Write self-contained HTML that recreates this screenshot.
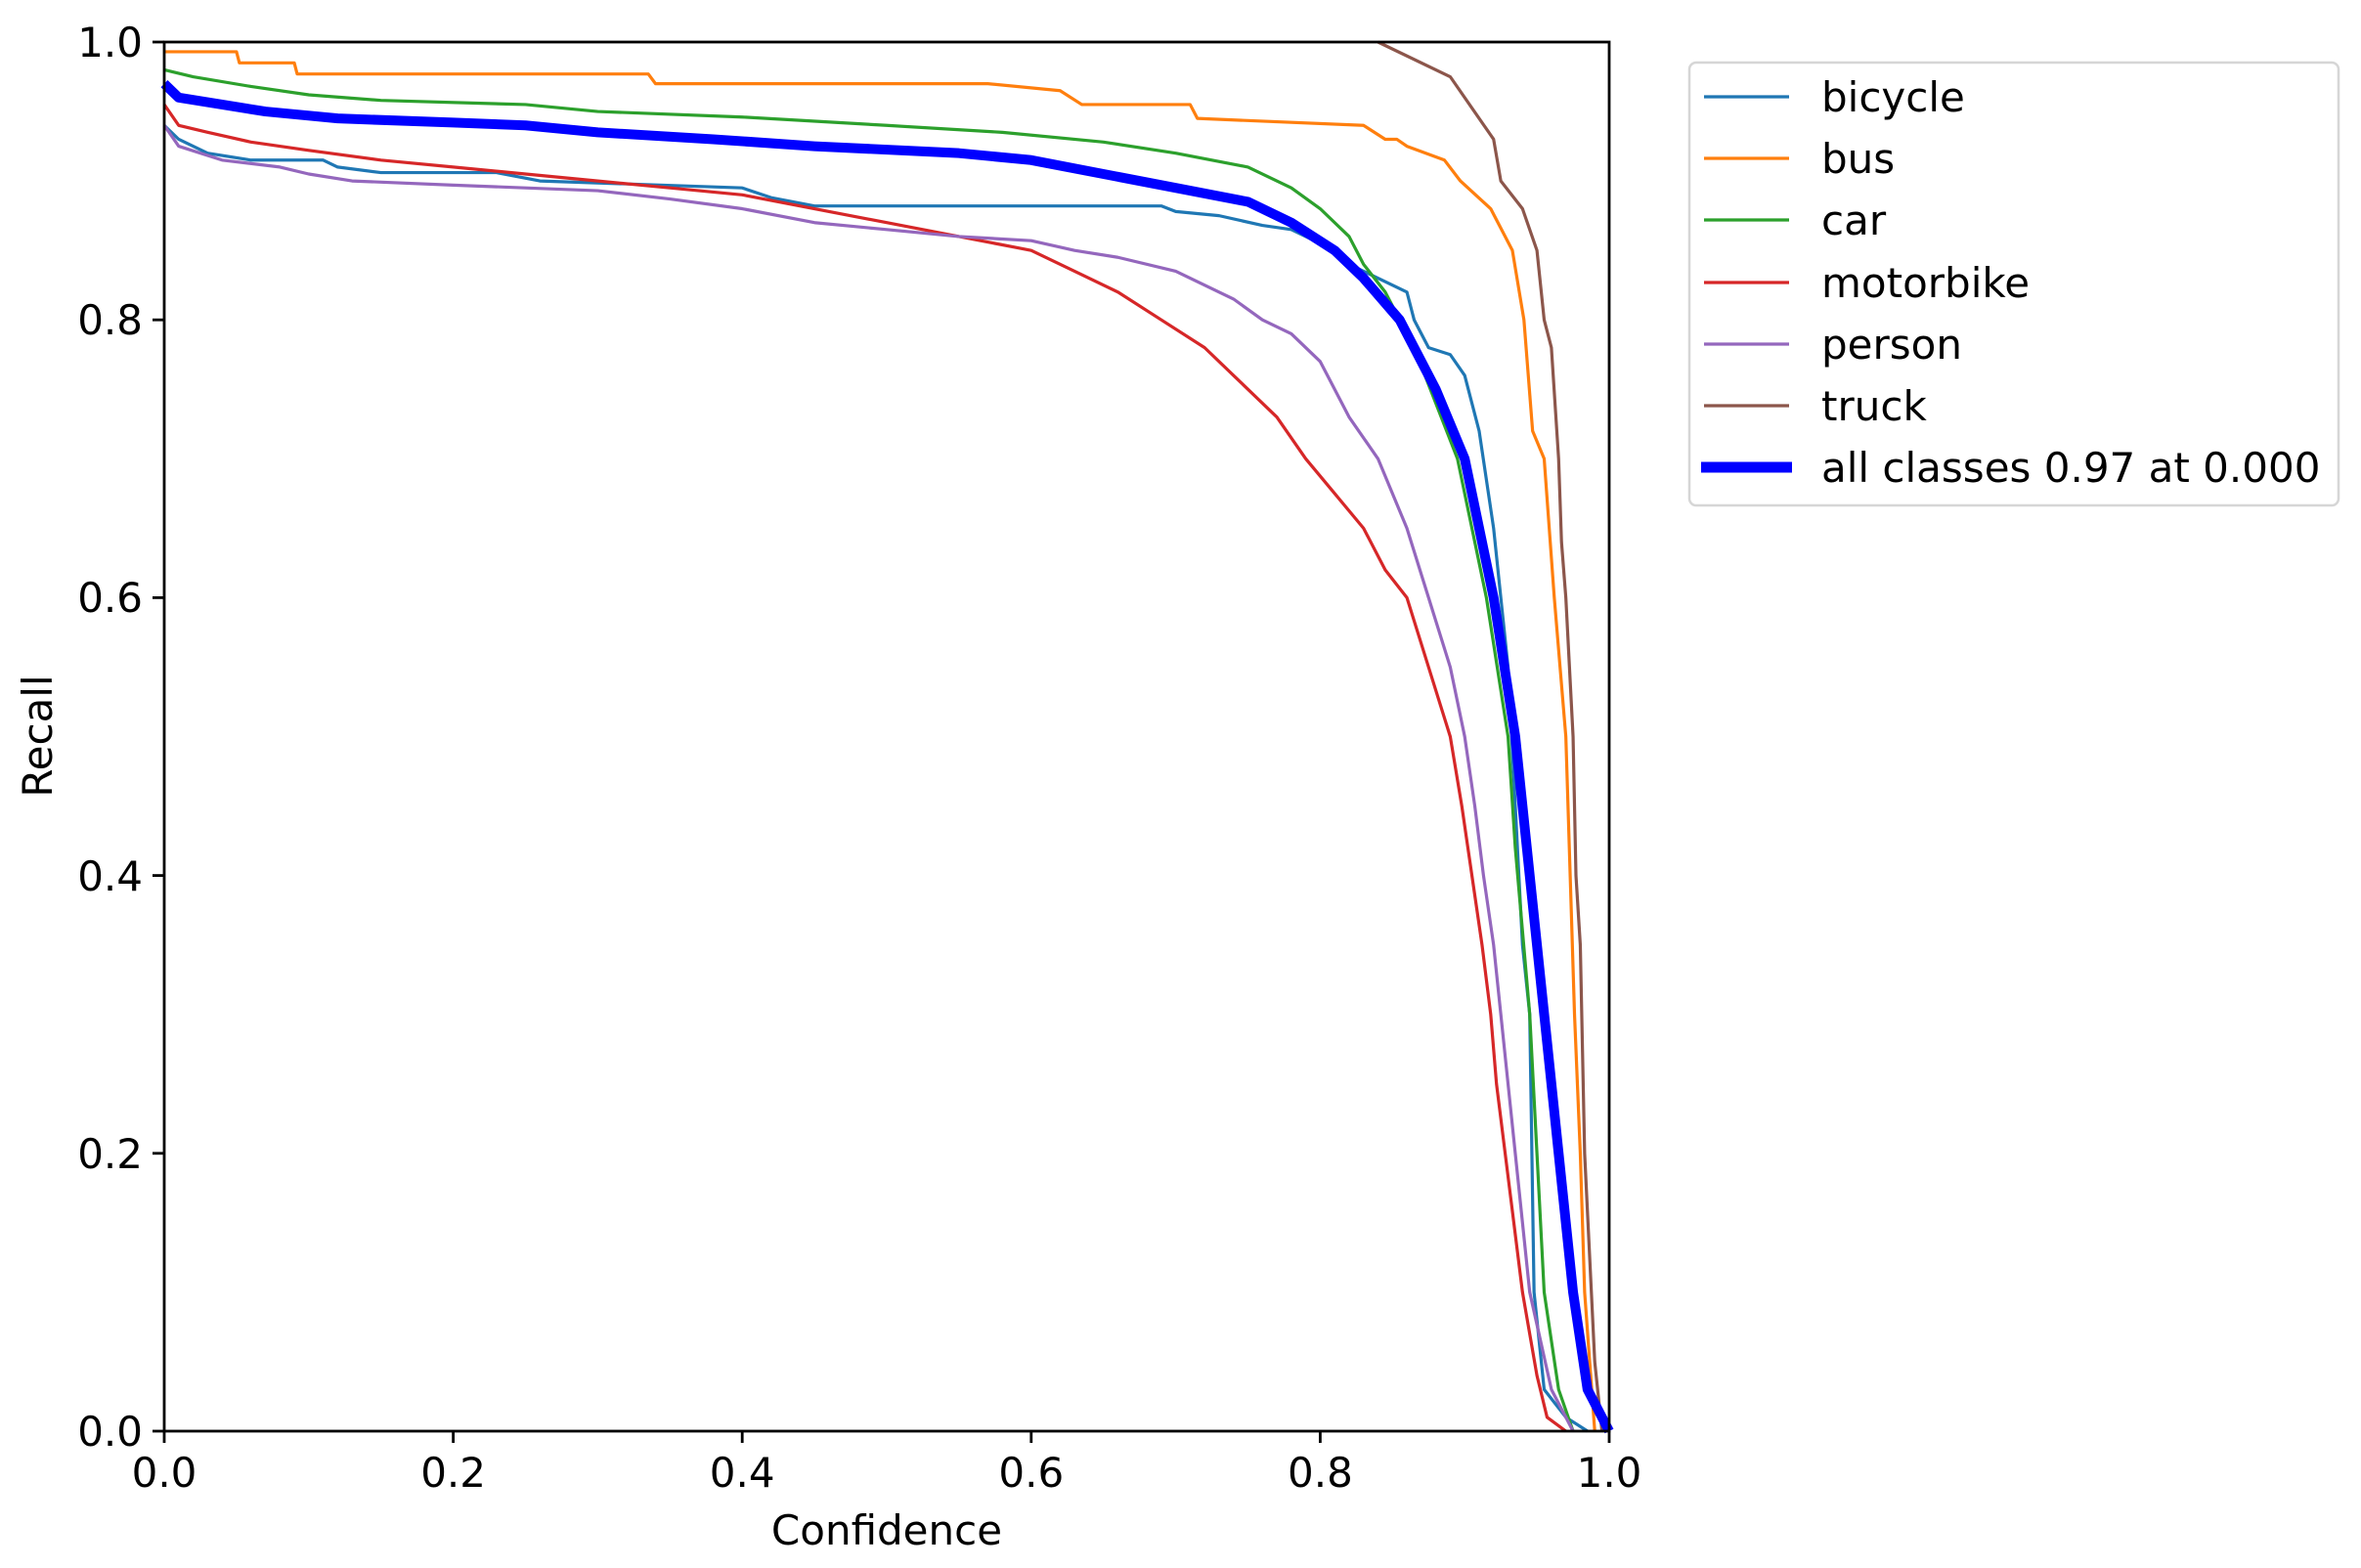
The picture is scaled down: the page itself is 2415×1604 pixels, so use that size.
<!DOCTYPE html>
<html><head><meta charset="utf-8"><style>
body{margin:0;background:#fff}
svg{display:block}
text{font-family:"DejaVu Sans","Liberation Sans",sans-serif;font-size:42px;fill:#000}
</style></head><body>
<svg width="2415" height="1604" viewBox="0 0 2415 1604" xmlns="http://www.w3.org/2000/svg">
<rect width="2415" height="1604" fill="#fff"/>
<g transform="translate(168,1464) scale(1478,-1421)" fill="none" stroke-linejoin="round">
<polyline vector-effect="non-scaling-stroke" stroke="#1f77b4" stroke-width="3.2" points="0,0.94 0.01,0.93 0.03,0.92 0.06,0.915 0.11,0.915 0.12,0.91 0.15,0.906 0.23,0.906 0.26,0.9 0.4,0.895 0.42,0.888 0.45,0.882 0.69,0.882 0.7,0.878 0.73,0.875 0.76,0.868 0.78,0.865 0.8,0.855 0.82,0.84 0.84,0.83 0.86,0.82 0.865,0.8 0.875,0.78 0.89,0.775 0.9,0.76 0.91,0.72 0.92,0.65 0.93,0.55 0.935,0.45 0.94,0.35 0.945,0.3 0.948,0.1 0.955,0.03 0.97,0.01 0.985,0"/>
<polyline vector-effect="non-scaling-stroke" stroke="#ff7f0e" stroke-width="3.2" points="0,0.993 0.05,0.993 0.052,0.985 0.09,0.985 0.092,0.977 0.335,0.977 0.34,0.97 0.57,0.97 0.62,0.965 0.635,0.955 0.71,0.955 0.715,0.945 0.83,0.94 0.845,0.93 0.853,0.93 0.86,0.925 0.886,0.915 0.897,0.9 0.918,0.88 0.933,0.85 0.941,0.8 0.947,0.72 0.955,0.7 0.962,0.6 0.97,0.5 0.973,0.4 0.976,0.3 0.98,0.2 0.983,0.1 0.99,0"/>
<polyline vector-effect="non-scaling-stroke" stroke="#2ca02c" stroke-width="3.2" points="0,0.98 0.02,0.975 0.06,0.968 0.1,0.962 0.15,0.958 0.25,0.955 0.3,0.95 0.4,0.946 0.5,0.94 0.58,0.935 0.65,0.928 0.7,0.92 0.75,0.91 0.78,0.895 0.8,0.88 0.82,0.86 0.83,0.84 0.845,0.82 0.855,0.8 0.865,0.78 0.895,0.7 0.915,0.6 0.93,0.5 0.935,0.42 0.945,0.3 0.95,0.2 0.955,0.1 0.965,0.03 0.975,0"/>
<polyline vector-effect="non-scaling-stroke" stroke="#d62728" stroke-width="3.2" points="0,0.955 0.01,0.94 0.03,0.935 0.06,0.928 0.1,0.922 0.15,0.915 0.2,0.91 0.25,0.905 0.3,0.9 0.35,0.895 0.4,0.89 0.45,0.88 0.5,0.87 0.55,0.86 0.6,0.85 0.63,0.835 0.66,0.82 0.69,0.8 0.72,0.78 0.74,0.76 0.77,0.73 0.79,0.7 0.81,0.675 0.83,0.65 0.845,0.62 0.86,0.6 0.875,0.55 0.89,0.5 0.898,0.45 0.905,0.4 0.912,0.35 0.918,0.3 0.922,0.25 0.928,0.2 0.934,0.15 0.94,0.1 0.95,0.04 0.957,0.01 0.97,0"/>
<polyline vector-effect="non-scaling-stroke" stroke="#9467bd" stroke-width="3.2" points="0,0.94 0.01,0.925 0.04,0.915 0.08,0.91 0.1,0.905 0.13,0.9 0.2,0.897 0.3,0.893 0.35,0.887 0.4,0.88 0.45,0.87 0.5,0.865 0.55,0.86 0.6,0.857 0.63,0.85 0.66,0.845 0.7,0.835 0.72,0.825 0.74,0.815 0.76,0.8 0.78,0.79 0.8,0.77 0.82,0.73 0.84,0.7 0.86,0.65 0.875,0.6 0.89,0.55 0.9,0.5 0.907,0.45 0.913,0.4 0.92,0.35 0.925,0.3 0.93,0.25 0.935,0.2 0.945,0.1 0.96,0.03 0.975,0"/>
<polyline vector-effect="non-scaling-stroke" stroke="#8c564b" stroke-width="3.2" points="0.84,1 0.89,0.975 0.92,0.93 0.925,0.9 0.94,0.88 0.95,0.85 0.955,0.8 0.96,0.78 0.965,0.7 0.967,0.64 0.97,0.6 0.975,0.5 0.977,0.4 0.98,0.35 0.983,0.2 0.99,0.05 0.995,0"/>
<polyline vector-effect="non-scaling-stroke" stroke="#0000ff" stroke-width="10" points="0,0.97 0.01,0.96 0.04,0.955 0.07,0.95 0.12,0.945 0.2,0.942 0.25,0.94 0.3,0.935 0.38,0.93 0.45,0.925 0.55,0.92 0.6,0.915 0.65,0.905 0.7,0.895 0.75,0.885 0.78,0.87 0.81,0.85 0.83,0.83 0.855,0.8 0.88,0.75 0.9,0.7 0.92,0.6 0.935,0.5 0.945,0.4 0.955,0.3 0.965,0.2 0.975,0.1 0.985,0.03 1,0"/>
</g>
<rect x="168" y="43" width="1478" height="1421" fill="none" stroke="#000" stroke-width="2.8"/>
<g stroke="#000" stroke-width="2.8">
<line x1="168" y1="1464" x2="168" y2="1476"/><line x1="463.6" y1="1464" x2="463.6" y2="1476"/><line x1="759.2" y1="1464" x2="759.2" y2="1476"/><line x1="1054.8" y1="1464" x2="1054.8" y2="1476"/><line x1="1350.4" y1="1464" x2="1350.4" y2="1476"/><line x1="1646" y1="1464" x2="1646" y2="1476"/>
<line x1="156" y1="1464" x2="168" y2="1464"/><line x1="156" y1="1179.8" x2="168" y2="1179.8"/><line x1="156" y1="895.6" x2="168" y2="895.6"/><line x1="156" y1="611.4" x2="168" y2="611.4"/><line x1="156" y1="327.2" x2="168" y2="327.2"/><line x1="156" y1="43" x2="168" y2="43"/>
</g>
<g text-anchor="middle">
<text x="168" y="1521">0.0</text><text x="463.6" y="1521">0.2</text><text x="759.2" y="1521">0.4</text><text x="1054.8" y="1521">0.6</text><text x="1350.4" y="1521">0.8</text><text x="1646" y="1521">1.0</text>
<text x="907" y="1580">Confidence</text>
</g>
<g text-anchor="end">
<text x="146" y="1479">0.0</text><text x="146" y="1195">0.2</text><text x="146" y="911">0.4</text><text x="146" y="626">0.6</text><text x="146" y="342">0.8</text><text x="146" y="58">1.0</text>
</g>
<text transform="translate(53,753) rotate(-90)" text-anchor="middle">Recall</text>
<rect x="1728" y="64" width="664" height="453" rx="7" fill="#fff" stroke="#d6d6d6" stroke-width="2.5"/>
<g stroke-width="3.2">
<line x1="1743" y1="99" x2="1830" y2="99" stroke="#1f77b4"/>
<line x1="1743" y1="162" x2="1830" y2="162" stroke="#ff7f0e"/>
<line x1="1743" y1="225" x2="1830" y2="225" stroke="#2ca02c"/>
<line x1="1743" y1="289" x2="1830" y2="289" stroke="#d62728"/>
<line x1="1743" y1="352" x2="1830" y2="352" stroke="#9467bd"/>
<line x1="1743" y1="415" x2="1830" y2="415" stroke="#8c564b"/>
<line x1="1740" y1="478" x2="1833" y2="478" stroke="#0000ff" stroke-width="11"/>
</g>
<text x="1863" y="114">bicycle</text>
<text x="1863" y="177">bus</text>
<text x="1863" y="240">car</text>
<text x="1863" y="304">motorbike</text>
<text x="1863" y="367">person</text>
<text x="1863" y="430">truck</text>
<text x="1863" y="493">all classes 0.97 at 0.000</text>
</svg>
</body></html>
